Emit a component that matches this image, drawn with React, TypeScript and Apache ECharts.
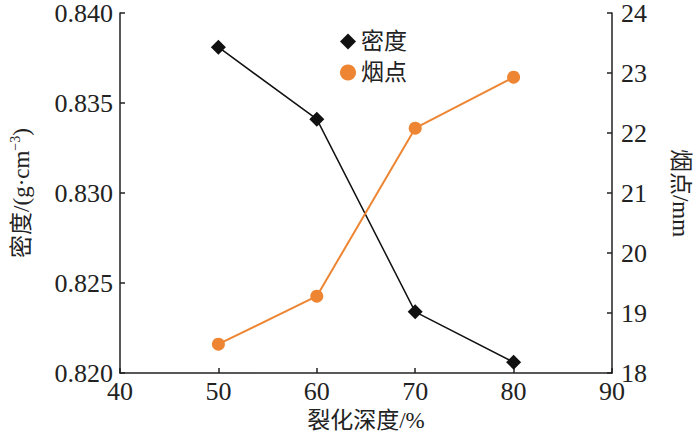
import React, { useEffect, useRef } from "react";
import * as echarts from "echarts";

const depths = [50, 60, 70, 80];
const density = [0.8381, 0.8341, 0.8234, 0.8206];
const smokePoint = [18.48, 19.28, 22.08, 22.93];
const seriesNames = ["密度", "烟点"];

const FONT = "Liberation Serif, Noto Sans CJK SC, serif";
const NUM_FONT = "Liberation Serif";

export default function App() {
  const ref = useRef<HTMLDivElement>(null);
  useEffect(() => {
    if (!ref.current) return;
    const chart = echarts.init(ref.current, null, { renderer: "svg" });
    const axisLine = { show: true, lineStyle: { color: "#222", width: 1.5 } };
    const axisTick = { show: true, inside: true, length: 5, lineStyle: { color: "#222", width: 1.5 } };
    const label = { fontSize: 26, color: "#222", fontFamily: NUM_FONT, lineHeight: 18 };
    chart.setOption({
      animation: false,
      textStyle: { fontFamily: FONT },
      grid: { left: 111, right: 77, top: 13, bottom: 71 },
      legend: {
        orient: "vertical",
        left: 335,
        top: 25,
        itemGap: 8,
        itemWidth: 16,
        itemHeight: 16,
        textStyle: { fontFamily: FONT, fontSize: 23, color: "#222" },
        data: [
          { name: seriesNames[0], icon: "diamond" },
          { name: seriesNames[1], icon: "circle" },
        ],
      },
      xAxis: {
        type: "value",
        min: 40,
        max: 90,
        interval: 10,
        axisLine,
        axisTick,
        splitLine: { show: false },
        axisLabel: { ...label, margin: 9 },
        name: "裂化深度/%",
        nameLocation: "middle",
        nameGap: 34,
        nameTextStyle: { fontSize: 23, color: "#222", fontFamily: FONT },
      },
      yAxis: [
        {
          type: "value",
          min: 0.82,
          max: 0.84,
          interval: 0.005,
          axisLine,
          axisTick,
          splitLine: { show: false },
          axisLabel: {
            ...label,
            margin: 7,
            formatter: (v: number) => v.toFixed(3),
          },
          name: "密度/(g·cm{sup|−3})",
          nameLocation: "middle",
          nameRotate: 90,
          nameGap: 86,
          nameTextStyle: {
            fontSize: 23,
            color: "#222",
            fontFamily: FONT,
            rich: {
              sup: { fontSize: 14, color: "#222", fontFamily: NUM_FONT, padding: [0, 0, 12, 0] },
            },
          },
        },
        {
          type: "value",
          min: 18,
          max: 24,
          interval: 1,
          position: "right",
          axisLine,
          axisTick,
          splitLine: { show: false },
          axisLabel: { ...label, margin: 9 },
          name: "烟点/mm",
          nameLocation: "middle",
          nameRotate: -90,
          nameGap: 57,
          nameTextStyle: { fontSize: 23, color: "#222", fontFamily: FONT },
        },
      ],
      series: [
        {
          name: seriesNames[0],
          type: "line",
          yAxisIndex: 0,
          data: depths.map((d, i) => [d, density[i]]),
          symbol: "diamond",
          symbolSize: 15,
          itemStyle: { color: "#111" },
          lineStyle: { color: "#111", width: 1.5 },
        },
        {
          name: seriesNames[1],
          type: "line",
          yAxisIndex: 1,
          data: depths.map((d, i) => [d, smokePoint[i]]),
          symbol: "circle",
          symbolSize: 13,
          itemStyle: { color: "#EE8532" },
          lineStyle: { color: "#EE8532", width: 2 },
        },
      ],
    });
    return () => chart.dispose();
  }, []);
  return <div ref={ref} style={{ width: 700, height: 444, position: "absolute", left: 0, top: 0 }} />;
}
